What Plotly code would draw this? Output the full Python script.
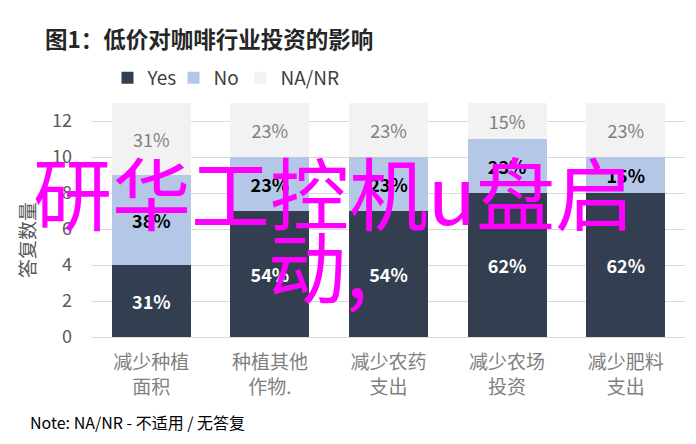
import plotly.graph_objects as go

categories = ["减少种植<br>面积", "种植其他<br>作物.", "减少农药<br>支出", "减少农场<br>投资", "减少肥料<br>支出"]
yes = [4, 7, 7, 8, 8]
no = [5, 3, 3, 3, 2]
na_nr = [4, 3, 3, 2, 3]

totals = [a + b + c for a, b, c in zip(yes, no, na_nr)]


def pct(values):
    return ["%d%%" % round(v / t * 100) for v, t in zip(values, totals)]


cjk = "Noto Sans CJK SC"
L, R, T, B = 92, 11, 103, 107
W = 696 - L - R
H = 444 - T - B

fig = go.Figure()
series = [
    ("Yes", yes, "#333f50", dict(color="white", size=18, family=cjk), True, "legend"),
    ("No", no, "#b4c7e7", dict(color="black", size=18, family=cjk), True, "legend2"),
    ("NA/NR", na_nr, "#f2f2f2", dict(color="#7f7f7f", size=18, family=cjk), False, "legend3"),
]
for name, vals, color, tfont, bold, leg in series:
    labels = pct(vals)
    if bold:
        labels = ["<b>%s</b>" % s for s in labels]
    fig.add_trace(go.Bar(
        name=name, x=categories, y=vals, marker_color=color,
        marker_line_width=0, text=labels, textposition="inside",
        insidetextanchor="middle", textangle=0, constraintext="none",
        textfont=tfont, legend=leg,
    ))

leg_font = dict(size=19, color="#404040", family=cjk)


def legend_at(px):
    return dict(orientation="h", x=(px - 19.5 - L) / W, xanchor="left",
                y=(337 - 78) / H, yanchor="middle", font=leg_font, itemwidth=30,
                bgcolor="rgba(0,0,0,0)")


fig.update_layout(
    barmode="stack",
    bargap=0.335,
    width=696, height=444,
    margin=dict(l=L, r=R, t=T, b=B, autoexpand=False),
    plot_bgcolor="white", paper_bgcolor="white",
    font=dict(family=cjk, color="#595959"),
    title=dict(text="<b>图1：低价对咖啡行业投资的影响</b>", x=45 / 696, xanchor="left",
               y=1 - 40 / 444, yanchor="middle",
               font=dict(size=22.5, color="#262626", family=cjk)),
    legend=legend_at(127),
    legend2=legend_at(193),
    legend3=legend_at(260),
    showlegend=True,
)
fig.update_yaxes(range=[0, 13], tickvals=[0, 2, 4, 6, 8, 10, 12], showgrid=True,
                 gridcolor="#d9d9d9", zeroline=False, showline=False,
                 tickfont=dict(size=18, color="#595959"), ticks="", ticklabelstandoff=19)
fig.update_xaxes(showline=True, linecolor="#d9d9d9", tickfont=dict(size=19, color="#7f7f7f"),
                 ticks="", ticklabelstandoff=8)

# y axis title
fig.add_annotation(text="答复数量", xref="paper", yref="paper",
                   x=(27 - L) / W, y=(337 - 240) / H, xanchor="center", yanchor="middle",
                   textangle=-90, showarrow=False,
                   font=dict(size=19, color="#595959", family=cjk))

fig.add_annotation(text="Note: NA/NR - 不适用 / 无答复", xref="paper", yref="paper",
                   x=(28 - L) / W, y=-(422 - 337) / H, xanchor="left", yanchor="middle",
                   showarrow=False, font=dict(size=16, color="#000000", family=cjk))

# watermark
fig.add_annotation(text="研华工控机u盘启", xref="paper", yref="paper",
                   x=(333 - L) / W, y=(337 - 190) / H, xanchor="center", yanchor="middle",
                   showarrow=False, font=dict(size=79, color="#ff00ff", family=cjk))
fig.add_annotation(text="动,", xref="paper", yref="paper",
                   x=(318 - L) / W, y=(337 - 264) / H, xanchor="center", yanchor="middle",
                   showarrow=False, font=dict(size=78, color="#ff00ff", family=cjk))

fig.write_html("out.html", config={"displayModeBar": False},
               post_script="document.body.style.margin='0';")
